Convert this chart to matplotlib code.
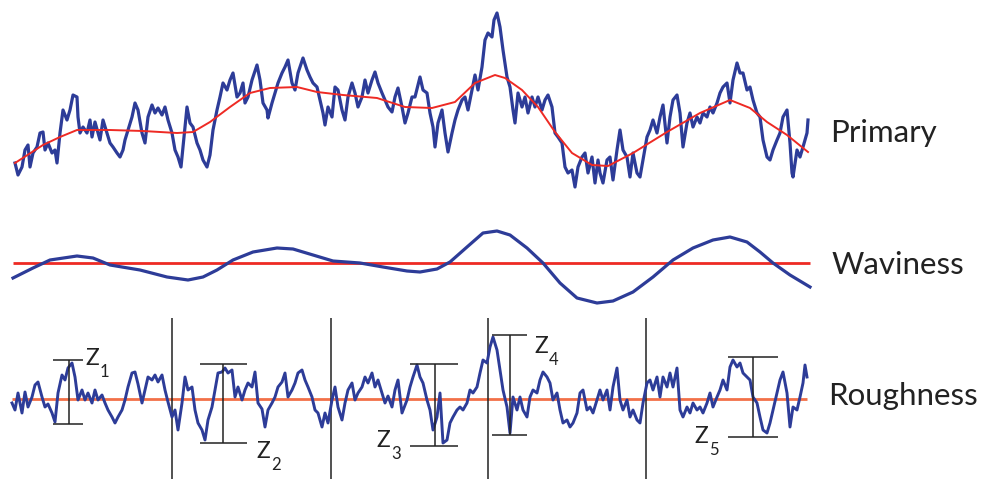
import matplotlib
matplotlib.use("Agg")
import matplotlib.pyplot as plt
import numpy as np

plt.rcParams['font.family'] = ['Lato', 'DejaVu Sans']

# ---------------- data (heights, arbitrary units) ----------------
primary_x = [15, 18, 22, 25, 28, 30, 33, 37, 40, 43, 45, 48, 52, 55, 57, 60, 63, 67, 70, 73, 77, 78, 80, 83, 87,
             90, 92, 95, 98, 100, 103, 107, 110, 113, 117, 120, 123, 125, 128, 132, 135, 138, 142, 145, 148, 152,
             155, 158, 162, 165, 168, 172, 175, 178, 181, 183, 187, 190, 193, 197, 200, 203, 207, 210, 213, 217,
             220, 223, 227, 230, 233, 237, 240, 243, 245, 248, 252, 257, 260, 263, 267, 268, 272, 275, 278, 282,
             285, 288, 292, 295, 298, 303, 307, 310, 313, 317, 320, 323, 325, 328, 332, 335, 338, 342, 345, 348,
             352, 355, 358, 362, 365, 368, 372, 375, 378, 382, 385, 388, 392, 395, 398, 402, 405, 408, 412, 415,
             420, 423, 427, 430, 433, 435, 438, 442, 445, 448, 452, 455, 458, 462, 465, 468, 472, 475, 478, 482,
             485, 488, 492, 494, 497, 500, 503, 507, 510, 513, 515, 518, 522, 525, 528, 532, 535, 538, 542, 545,
             548, 552, 555, 558, 562, 565, 568, 572, 575, 578, 582, 585, 588, 592, 595, 598, 600, 603, 607, 610,
             613, 617, 620, 623, 627, 630, 633, 637, 640, 643, 647, 650, 653, 657, 660, 663, 667, 670, 673, 677,
             680, 683, 687, 690, 693, 697, 700, 703, 707, 710, 713, 717, 720, 723, 727, 730, 733, 737, 740, 743,
             747, 750, 753, 757, 760, 763, 767, 770, 773, 777, 780, 783, 787, 790, 792, 793, 797, 800, 803, 807,
             808]
primary_h = [37, 25, 33, 50, 55, 33, 47, 53, 67, 68, 50, 57, 47, 50, 37, 67, 90, 80, 90, 105, 103, 83, 67, 73, 67,
             80, 63, 78, 67, 60, 80, 67, 57, 53, 47, 43, 50, 60, 70, 83, 97, 90, 67, 57, 83, 95,
             87, 92, 85, 93, 80, 67, 50, 43, 33, 53, 93, 77, 73, 57, 50, 40, 33, 45, 70, 90,
             103, 117, 110, 120, 127, 103, 107, 117, 97, 103, 120, 135, 120, 97, 90, 82, 97, 107, 117, 127,
             133, 140, 117, 110, 127, 142, 130, 123, 117, 113, 100, 87, 75, 93, 83, 113, 110, 90, 80, 103,
             117, 107, 93, 103, 120, 107, 120, 128, 117, 107, 100, 93, 88, 103, 112, 93, 77, 87, 103, 103,
             123, 110, 107, 87, 73, 53, 77, 90, 67, 48, 67, 80, 90, 100, 103, 90, 110, 125, 110, 133,
             160, 167, 163, 180, 187, 173, 150, 123, 113, 90, 77, 107, 93, 103, 87, 103, 93, 103, 90, 100,
             105, 93, 67, 63, 57, 33, 27, 30, 13, 33, 43, 47, 27, 43, 17, 40, 27, 17, 40, 43,
             20, 50, 70, 50, 43, 23, 47, 27, 23, 40, 63, 70, 80, 67, 83, 95, 57, 83, 100, 105,
             87, 53, 77, 87, 73, 83, 77, 87, 83, 93, 87, 97, 107, 113, 117, 97, 120, 137, 127, 127,
             110, 113, 100, 87, 83, 60, 43, 40, 50, 60, 67, 83, 90, 57, 27, 23, 50, 43, 53, 67,
             80]

# long-wavelength (filter) line drawn over the primary profile
primary_wav_x = [15, 43, 60, 77, 110, 143, 177, 193, 210, 230, 250, 270, 297, 317, 343, 377, 405, 432, 455,
                 475, 495, 505, 522, 538, 555, 572, 592, 608, 633, 667, 700, 730, 750, 767, 787, 808]
primary_wav_h = [37, 55, 63, 70, 70, 69, 67, 68, 78, 93, 107, 112, 113, 108, 105, 102, 93, 92, 98,
                 117, 125, 122, 110, 93, 68, 47, 35, 34, 47, 68, 87, 100, 92, 78, 65, 48]

waviness_x = [13, 33, 50, 77, 93, 110, 140, 167, 188, 203, 217, 233, 253, 277, 293, 313, 333, 360, 383, 407,
              420, 437, 450, 467, 483, 497, 510, 527, 543, 560, 577, 597, 613, 633, 653, 673, 693, 713, 730,
              747, 760, 773, 790, 810]
waviness_h = [-15, -5, 3, 7, 5, -2, -7, -14, -17, -14, -7, 3, 11, 15, 14, 8, 2, 0, -4, -8,
              -9, -6, 1, 16, 30, 32, 28, 15, 0, -20, -35, -40, -38, -29, -14, 3, 15, 23, 26,
              21, 11, 0, -12, -24]

roughness_x = [12, 15, 18, 22, 25, 28, 32, 35, 38, 42, 45, 48, 52, 55, 58, 62, 65, 68, 72, 75, 78, 82, 85, 88,
               92, 95, 98, 102, 105, 108, 112, 115, 118, 122, 125, 128, 132, 135, 138, 142, 145, 148, 152, 155,
               158, 162, 165, 168, 172, 175, 178, 182, 185, 188, 192, 195, 198, 202, 205, 208, 212, 215, 218,
               222, 225, 228, 232, 235, 238, 242, 245, 248, 252, 255, 258, 262, 265, 268, 272, 275, 278, 282,
               285, 288, 292, 295, 298, 302, 305, 308, 312, 315, 318, 322, 325, 328, 332, 335, 338, 342, 345,
               348, 352, 355, 358, 362, 365, 368, 372, 375, 378, 382, 385, 388, 392, 395, 398, 402, 407, 410,
               413, 417, 420, 423, 427, 430, 433, 437, 440, 443, 447, 450, 453, 457, 460, 463, 467, 470, 473,
               477, 480, 483, 487, 490, 493, 497, 500, 503, 507, 510, 513, 517, 520, 523, 527, 530, 533, 537,
               540, 543, 547, 550, 553, 557, 560, 563, 567, 570, 573, 577, 580, 583, 587, 590, 593, 597, 600,
               603, 607, 610, 613, 617, 620, 623, 627, 630, 633, 637, 640, 643, 647, 650, 653, 657, 660, 663,
               667, 670, 673, 677, 680, 683, 687, 690, 693, 697, 700, 703, 707, 710, 713, 717, 720, 723, 727,
               730, 733, 737, 740, 743, 747, 750, 753, 757, 760, 763, 767, 770, 773, 777, 780, 783, 787, 790,
               793, 797, 800, 803, 805, 807]
roughness_h = [-4, -11, 6, -14, 7, -8, 2, 14, 17, 2, -8, -5, -14, -23, 6, 24, 19, 31, 36, 22, -1, 9, -1, 6,
               -4, 9, -1, 4, -4, -11, -18, -24, -18, -11, -1, 12, 26, 27, 15, -4, 9, 22, 19, 24,
               17, 24, 9, -3, -18, -11, -31, -4, 22, 9, 12, -11, -24, -31, -41, -21, -8, 9, 26,
               27, 31, 26, 29, 2, 12, -1, 9, 16, 12, 27, -4, -10, -28, -11, -4, 2, 12, 17,
               26, 2, 9, 16, 26, 29, 19, 12, 2, -11, -14, -28, -14, -24, -1, 12, -8, -21, -4,
               9, 16, -1, 6, 12, 22, 16, 26, 12, 19, 6, -4, 3, -8, 9, 19, -14, -1, 12,
               22, 34, 22, 16, -1, -11, -31, -18, 6, -44, -41, -24, -18, -11, -8, -11, -4, 9, 6,
               12, 26, 39, 36, 52, 62, 49, 29, 9, -8, -34, 2, -11, 2, -11, -18, 2, 9, 6,
               19, 27, 22, 16, -1, 6, -11, -24, -21, -28, -24, -14, 6, 9, -11, -8, -14, -1, 9,
               -1, 9, -11, 12, 31, -1, -11, -1, -18, -11, -21, -24, -4, 16, 19, 9, 22, 2, 22,
               12, 26, 12, 31, -11, -18, -8, -14, -4, -11, -8, -14, -4, 6, -8, 2, 9, 19, 9,
               32, 39, 32, 36, 26, 22, 19, 2, -4, -18, -31, -34, -24, -11, 6, 19, 27, 6, -28,
               -8, -11, 2, 16, 34, 22]

# sampling-length boundaries and peak-to-valley heights Z1..Z5
sampling_bounds = [172, 331, 488, 646]
z_labels = ['1', '2', '3', '4', '5']
z_top = [39, 35, 35, 64, 42]
z_bottom = [-25, -44, -47, -36, -38]

# ---------------- styling / layout ----------------
W, H = 986, 479
BLUE = '#2d3c98'
RED = '#ee2a24'
ORANGE = '#f27048'
INK = '#222222'

fig = plt.figure(figsize=(W / 100, H / 100), dpi=100)
fig.patch.set_facecolor('white')

def add_axes(top_px, bottom_px, ylim):
    ax = fig.add_axes([0, 1 - bottom_px / H, 1, (bottom_px - top_px) / H])
    ax.set_xlim(0, W)
    ax.set_ylim(*ylim)
    ax.axis('off')
    ax.patch.set_alpha(0)
    return ax

ax_p = add_axes(0, 200, (0, 200))
ax_w = add_axes(200, 300, (-37, 63))
ax_r = add_axes(300, 479, (-80, 99))

# Primary
ax_p.plot(primary_x, primary_h, color=BLUE, lw=2.3, solid_joinstyle='round', clip_on=False)
ax_p.plot(primary_wav_x, primary_wav_h, color=RED, lw=1.4, clip_on=False)

# Waviness
ax_w.hlines(0, min(waviness_x), max(waviness_x), color=RED, lw=2.0)
ax_w.plot(waviness_x, waviness_h, color=BLUE, lw=2.3, clip_on=False)

# Roughness
ax_r.hlines(0, min(roughness_x), max(roughness_x), color=ORANGE, lw=2.0)
ax_r.vlines(sampling_bounds, -80, 81, color=INK, lw=1.1)
ax_r.plot(roughness_x, roughness_h, color=BLUE, lw=2.1, solid_joinstyle='round', clip_on=False)

# Z brackets
bracket_x = [69, 223, 435, 510, 753]
bracket_l = [53, 200, 410, 492, 728]
bracket_r = [83, 247, 458, 527, 778]
for cx, xl, xr, zt, zb in zip(bracket_x, bracket_l, bracket_r, z_top, z_bottom):
    ax_r.vlines(cx, zb, zt, color=INK, lw=1.1)
    ax_r.hlines([zt, zb], xl, xr, color=INK, lw=1.1)

# Z labels
lab_x = [85, 256, 376, 534, 694]
lab_y = [34, -59, -48, 46, -44]
for lx, ly, s in zip(lab_x, lab_y, z_labels):
    ax_r.text(lx, ly, 'Z', fontsize=16.5, color=INK, ha='left', va='baseline')
    ax_r.text(lx + 15, ly - 12, s, fontsize=12, color=INK, ha='left', va='baseline')

# panel names
fig.text(830 / W, 1 - 142 / H, 'Primary', fontsize=22.5, color=INK, ha='left', va='baseline')
fig.text(832 / W, 1 - 274 / H, 'Waviness', fontsize=22.5, color=INK, ha='left', va='baseline')
fig.text(828 / W, 1 - 405 / H, 'Roughness', fontsize=22.5, color=INK, ha='left', va='baseline')

fig.savefig('out.png', dpi=100, facecolor='white')
